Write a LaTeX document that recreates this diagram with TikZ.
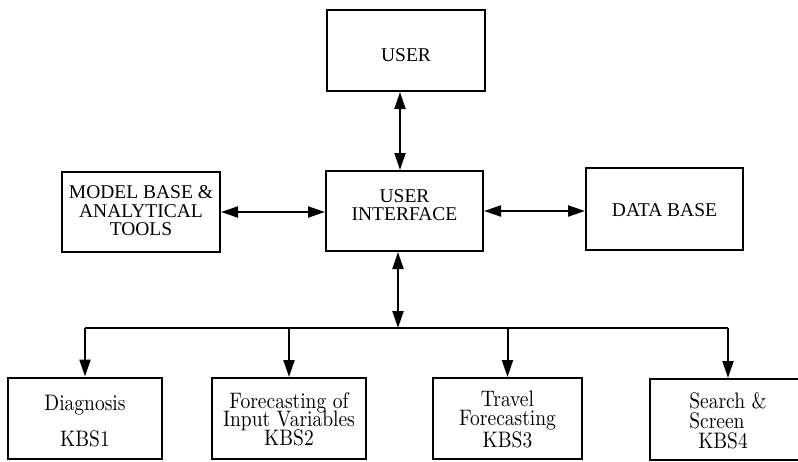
\documentclass[tikz,border=0pt]{standalone}
\usepackage{fontspec}
\usepackage{graphicx}
\newfontfamily\topfont{Liberation Serif}
\newfontfamily\kbsfont{lmroman10-regular}[Extension=.otf]
\usetikzlibrary{arrows.meta}

\newcommand{\kbstext}[3][c]{\raisebox{#2}[\height][\depth]{\scalebox{1}[1.15]{\begin{tabular}{@{}#1@{}}#3\end{tabular}}}}
\newcommand{\toptext}[2]{\raisebox{#1}[\height][\depth]{\begin{tabular}{@{}c@{}}#2\end{tabular}}}

\tikzset{
  topbox/.style={draw, line width=2pt, inner sep=0pt,
    font=\topfont\fontsize{19.5}{18}\selectfont},
  kbsbox/.style={draw, line width=2pt, inner sep=0pt,
    minimum height=81pt, font=\kbsfont\fontsize{19.5}{14.8}\selectfont},
  link/.style={line width=2pt, >={Triangle[length=17pt,width=11pt]}}
}

\begin{document}
\begin{tikzpicture}[x=1pt,y=-1pt]
    \useasboundingbox (0,0) rectangle (798,461);
    \clip (0,0) rectangle (798,461);

    % Top row of boxes
    \node[topbox, minimum width=158pt, minimum height=81pt] (user) at (406,50.5) {\toptext{-7pt}{USER}};
    \node[topbox, minimum width=157pt, minimum height=80pt] (ui) at (404.5,211) {\toptext{3pt}{USER\\INTERFACE}};
    \node[topbox, minimum width=158pt, minimum height=80pt] (modelbase) at (141,212) {\toptext{-1.5pt}{MODEL BASE \&\\ANALYTICAL\\TOOLS}};
    \node[topbox, minimum width=157pt, minimum height=82pt] (database) at (664.5,209) {\toptext{-4pt}{DATA BASE}};

    % Knowledge based systems
    \node[kbsbox, minimum width=154pt] (kbs1) at (85,418) {\kbstext{-5.5pt}{Diagnosis\\[13pt]KBS1}};
    \node[kbsbox, minimum width=154pt] (kbs2) at (289,418.5) {\kbstext{-3pt}{Forecasting of\\[-2pt]Input Variables\\[-2pt]KBS2}};
    \node[kbsbox, minimum width=149pt] (kbs3) at (507.5,418.5) {\kbstext{-3.5pt}{Travel\\[-1.5pt]Forecasting\\[1pt]KBS3}};
    \node[kbsbox, minimum width=156pt] (kbs4) at (728,419.5) {\kbstext[l]{-3.5pt}{Search \&\\[-0.5pt]Screen\\[-0.5pt]\hspace*{9pt}KBS4}};

    % Two-way links round the interface
    \draw[link,<->] ([xshift=-6pt]user.south) -- ([xshift=-6pt]user.south |- ui.north);
    \draw[link,<->] (modelbase.east) -- (modelbase.east -| ui.west);
    \draw[link,<->] (ui.east) -- (ui.east -| database.west);

    % Bus down to the KBS boxes
    \coordinate (bus) at (398,328);
    \draw[link,<->] (bus |- ui.south) -- (bus);
    \draw[link] (kbs1.north |- bus) -- (kbs4.north |- bus);
    \draw[link,->] (kbs1.north |- bus) -- (kbs1.north);
    \draw[link,->] (kbs2.north |- bus) -- (kbs2.north);
    \draw[link,->] (kbs3.north |- bus) -- (kbs3.north);
    \draw[link,->] (kbs4.north |- bus) -- (kbs4.north);
\end{tikzpicture}
\end{document}
